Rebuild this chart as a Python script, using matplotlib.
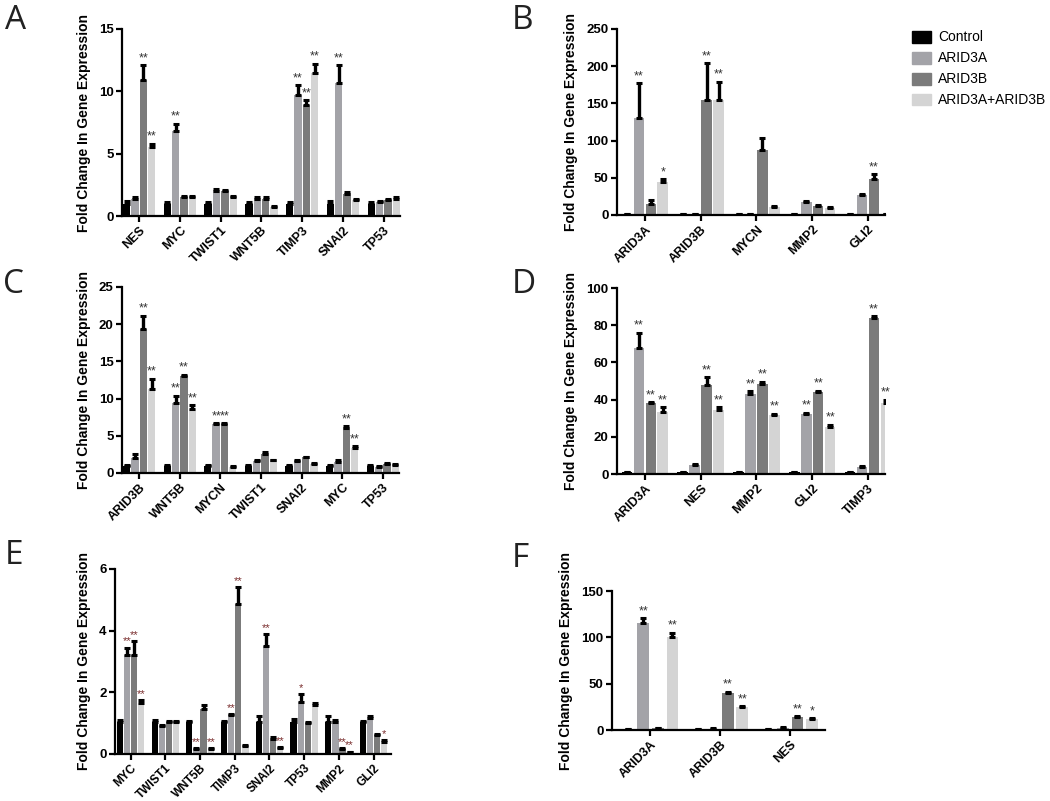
import numpy as np
import matplotlib.pyplot as plt

plt.rcParams['font.family'] = ['Liberation Sans', 'DejaVu Sans']

series_names = ['Control', 'ARID3A', 'ARID3B', 'ARID3A+ARID3B']
colors = ['#000000', '#a3a3a8', '#7b7b7b', '#d4d4d4']

# panel A
genes_a = ['NES', 'MYC', 'TWIST1', 'WNT5B', 'TIMP3', 'SNAI2', 'TP53']
ctrl_a = [1.0, 1.0, 1.0, 1.0, 1.0, 1.0, 1.0]
a3a_a = [1.4, 6.8, 2.0, 1.4, 9.7, 10.7, 1.1]
a3b_a = [10.9, 1.5, 2.0, 1.4, 8.9, 1.8, 1.3]
combo_a = [5.5, 1.5, 1.5, 0.7, 11.5, 1.3, 1.4]
err_ctrl_a = [0.2, 0.1, 0.1, 0.15, 0.1, 0.2, 0.1]
err_a3a_a = [0.1, 0.6, 0.2, 0.1, 0.8, 1.4, 0.1]
err_a3b_a = [1.2, 0.1, 0.1, 0.1, 0.4, 0.1, 0.1]
err_combo_a = [0.3, 0.1, 0.1, 0.1, 0.7, 0.1, 0.1]
stars_a = [['', '', '', '', '', '', ''],
           ['', '**', '', '', '**', '**', ''],
           ['**', '', '', '', '**', '', ''],
           ['**', '', '', '', '**', '', '']]

# panel B
genes_b = ['ARID3A', 'ARID3B', 'MYCN', 'MMP2', 'GLI2']
ctrl_b = [1, 1, 1, 1, 1]
a3a_b = [131, 1, 1, 17, 27]
a3b_b = [15, 154, 87, 12, 49]
combo_b = [45, 155, 11, 10, 1]
err_ctrl_b = [0.5, 0.5, 0.5, 0.5, 0.5]
err_a3a_b = [46, 0.5, 0.5, 1.5, 0.8]
err_a3b_b = [5, 50, 17, 1, 6]
err_combo_b = [3, 24, 1, 1, 0.5]
stars_b = [['', '', '', '', ''],
           ['**', '', '', '', ''],
           ['', '**', '', '', '**'],
           ['*', '**', '', '', '']]

# panel C
genes_c = ['ARID3B', 'WNT5B', 'MYCN', 'TWIST1', 'SNAI2', 'MYC', 'TP53']
ctrl_c = [1.0, 1.0, 1.0, 1.0, 1.0, 1.0, 1.0]
a3a_c = [2.0, 9.4, 6.6, 1.6, 1.6, 1.5, 0.8]
a3b_c = [19.4, 13.0, 6.6, 2.6, 2.1, 6.1, 1.2]
combo_c = [11.3, 8.6, 0.8, 1.7, 1.2, 3.3, 1.1]
err_ctrl_c = [0.1, 0.1, 0.1, 0.1, 0.1, 0.1, 0.1]
err_a3a_c = [0.6, 1.0, 0.1, 0.1, 0.1, 0.3, 0.1]
err_a3b_c = [1.7, 0.2, 0.1, 0.2, 0.1, 0.2, 0.1]
err_combo_c = [1.4, 0.5, 0.1, 0.1, 0.1, 0.3, 0.1]
stars_c = [['', '', '', '', '', '', ''],
           ['', '**', '**', '', '', '', ''],
           ['**', '**', '**', '', '', '**', ''],
           ['**', '**', '', '', '', '**', '']]

# panel D
genes_d = ['ARID3A', 'NES', 'MMP2', 'GLI2', 'TIMP3']
ctrl_d = [1, 1, 1, 1, 1]
a3a_d = [68, 5, 43, 32.5, 3.8]
a3b_d = [38, 48, 48.5, 44, 84]
combo_d = [33.5, 34.5, 32, 25.5, 38]
err_ctrl_d = [0.3, 0.3, 0.3, 0.3, 0.3]
err_a3a_d = [8, 0.5, 1.5, 0.5, 0.5]
err_a3b_d = [0.5, 4, 1, 0.8, 0.8]
err_combo_d = [2.5, 1.5, 0.5, 1, 2]
stars_d = [['', '', '', '', ''],
           ['**', '', '**', '**', ''],
           ['**', '**', '**', '**', '**'],
           ['**', '**', '**', '**', '**']]

# panel E
genes_e = ['MYC', 'TWIST1', 'WNT5B', 'TIMP3', 'SNAI2', 'TP53', 'MMP2', 'GLI2']
ctrl_e = [1.03, 1.03, 1.03, 1.03, 1.03, 1.03, 1.03, 1.05]
a3a_e = [3.2, 0.9, 0.15, 1.25, 3.5, 1.7, 1.05, 1.18]
a3b_e = [3.2, 1.03, 1.45, 4.85, 0.5, 1.0, 0.15, 0.62]
combo_e = [1.65, 1.05, 0.15, 0.25, 0.2, 1.6, 0.05, 0.4]
err_ctrl_e = [0.07, 0.07, 0.05, 0.05, 0.2, 0.1, 0.2, 0.03]
err_a3a_e = [0.25, 0.05, 0.05, 0.05, 0.38, 0.25, 0.05, 0.05]
err_a3b_e = [0.45, 0.05, 0.15, 0.55, 0.05, 0.03, 0.03, 0.03]
err_combo_e = [0.1, 0.03, 0.04, 0.03, 0.03, 0.06, 0.03, 0.05]
stars_e = [['', '', '', '', '', '', '', ''],
           ['**', '', '**', '**', '**', '*', '', ''],
           ['**', '', '', '**', '', '', '**', ''],
           ['**', '', '**', '', '**', '', '**', '*']]

# panel F
genes_f = ['ARID3A', 'ARID3B', 'NES']
ctrl_f = [1, 1, 1]
a3a_f = [115, 1.5, 2.5]
a3b_f = [2, 40, 14]
combo_f = [100, 25, 11.5]
err_ctrl_f = [0.5, 0.5, 0.5]
err_a3a_f = [6, 0.5, 0.5]
err_a3b_f = [0.5, 1.5, 1]
err_combo_f = [5, 1, 1]
stars_f = [['', '', ''],
           ['**', '', ''],
           ['', '**', '**'],
           ['**', '**', '*']]


def draw_panel(rect, genes, vals, errs, stars, ymax, ystep, xlim,
               width=0.18, step=0.205, star_color='#333333', xfs=9,
               sfs=9):
    ax = fig.add_axes(rect)
    x = np.arange(len(genes))
    for i in range(4):
        xs = x + (i - 1.5) * step
        v = np.array(vals[i], dtype=float)
        e = np.array(errs[i], dtype=float)
        ax.bar(xs, v, width=width, color=colors[i], zorder=2)
        ax.errorbar(xs, v, yerr=[np.zeros_like(e), e], fmt='none',
                    ecolor='black', elinewidth=2.4, capsize=2, capthick=2.2,
                    zorder=3)
        for xi, top, s in zip(xs, v + e, stars[i]):
            if s:
                ax.text(xi, top + ymax * 0.006, s, ha='center', va='bottom',
                        fontsize=sfs, color=star_color)
    ax.set_xlim(*xlim)
    ax.set_ylim(0, ymax)
    ax.set_yticks(np.arange(0, ymax + 0.001, ystep))
    ax.set_xticks(x)
    ax.set_xticklabels(genes, rotation=45, ha='right', rotation_mode='anchor',
                       fontsize=xfs, fontweight='bold')
    for lab in ax.get_yticklabels():
        lab.set_fontweight('bold')
        lab.set_fontsize(9.5)
    for s in ['top', 'right']:
        ax.spines[s].set_visible(False)
    for s in ['left', 'bottom']:
        ax.spines[s].set_linewidth(1.6)
    ax.tick_params(width=1.6, length=4, pad=2)
    ax.set_ylabel('Fold Change In Gene Expression', fontsize=10,
                  fontweight='bold', labelpad=6)
    return ax


fig = plt.figure(figsize=(10.5, 8.01), dpi=100)

draw_panel([0.1162, 0.7303, 0.2648, 0.2335], genes_a,
           [ctrl_a, a3a_a, a3b_a, combo_a],
           [err_ctrl_a, err_a3a_a, err_a3b_a, err_combo_a],
           stars_a, 15, 5, (-0.42, 6.4))
draw_panel([0.5876, 0.7316, 0.255, 0.2322], genes_b,
           [ctrl_b, a3a_b, a3b_b, combo_b],
           [err_ctrl_b, err_a3a_b, err_a3b_b, err_combo_b],
           stars_b, 250, 50, (-0.5, 4.3), width=0.19, step=0.214)
draw_panel([0.1162, 0.4095, 0.2638, 0.2322], genes_c,
           [ctrl_c, a3a_c, a3b_c, combo_c],
           [err_ctrl_c, err_a3a_c, err_a3b_c, err_combo_c],
           stars_c, 25, 5, (-0.42, 6.4))
draw_panel([0.5876, 0.4082, 0.255, 0.2322], genes_d,
           [ctrl_d, a3a_d, a3b_d, combo_d],
           [err_ctrl_d, err_a3a_d, err_a3b_d, err_combo_d],
           stars_d, 100, 20, (-0.5, 4.3), width=0.19, step=0.214)
draw_panel([0.1095, 0.0587, 0.2629, 0.231], genes_e,
           [ctrl_e, a3a_e, a3b_e, combo_e],
           [err_ctrl_e, err_a3a_e, err_a3b_e, err_combo_e],
           stars_e, 6, 2, (-0.45, 7.5), star_color='#7a2e2e', xfs=8.5,
           sfs=8)
draw_panel([0.5829, 0.0886, 0.2029, 0.1735], genes_f,
           [ctrl_f, a3a_f, a3b_f, combo_f],
           [err_ctrl_f, err_a3a_f, err_a3b_f, err_combo_f],
           stars_f, 150, 50, (-0.55, 2.5), width=0.17, step=0.21)

# panel letters
for letter, (lx, ly) in zip('ABCDEF', [(0.005, 0.975), (0.487, 0.975),
                                       (0.003, 0.645), (0.487, 0.645),
                                       (0.005, 0.307), (0.487, 0.303)]):
    fig.text(lx, ly, letter, fontsize=24, family='Open Sans',
             va='center', ha='left', color='#222222')

handles = [plt.Rectangle((0, 0), 1, 1, color=c) for c in colors]
fig.legend(handles, series_names, loc='upper left',
           bbox_to_anchor=(0.869, 0.962), frameon=False, fontsize=10,
           handlelength=1.3, handleheight=0.95, labelspacing=0.5,
           handletextpad=0.55, borderpad=0, borderaxespad=0)

fig.savefig('out.png', dpi=100)
